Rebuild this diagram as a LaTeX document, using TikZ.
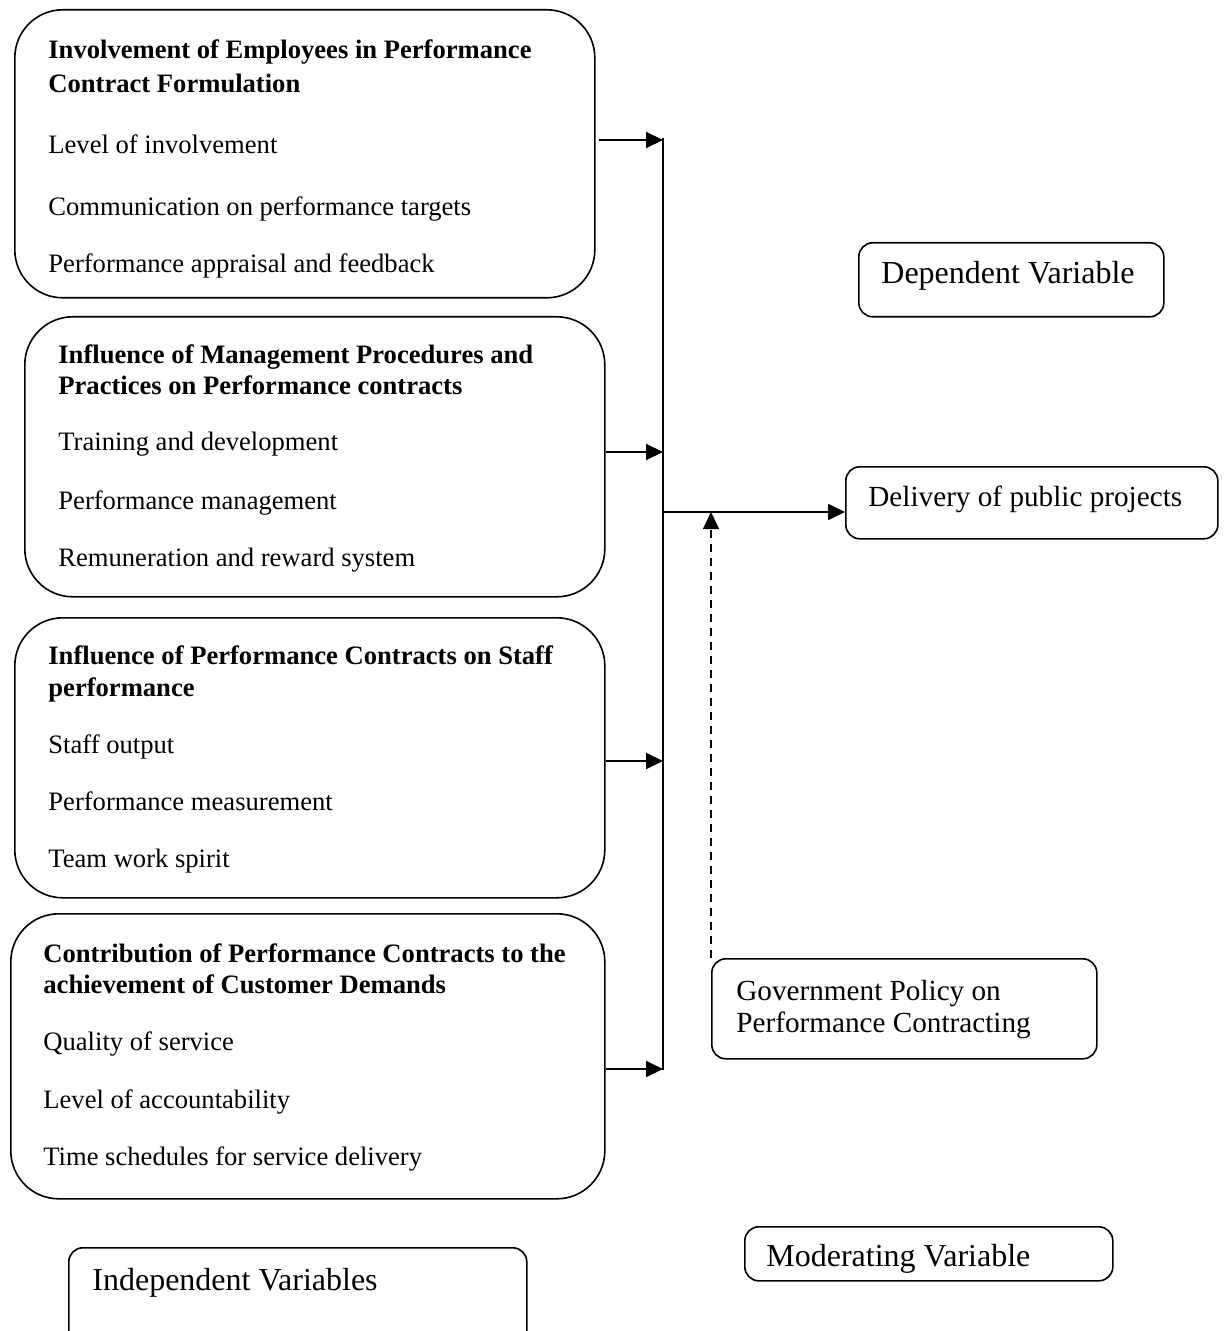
\documentclass[tikz,border=0pt]{standalone}
\usepackage{fontspec}
\setmainfont{Liberation Serif}
\usetikzlibrary{arrows.meta}

\tikzset{
  varbox/.style={draw, line width=0.8pt, rounded corners=24pt, anchor=north west, inner sep=0pt},
  labbox/.style={draw, line width=0.8pt, rounded corners=7pt, anchor=north west, inner sep=0pt},
  head/.style={anchor=base west, inner sep=0pt, font=\fontsize{13.3}{15}\selectfont\bfseries},
  item/.style={anchor=base west, inner sep=0pt, font=\fontsize{13.3}{15}\selectfont},
  midlab/.style={anchor=base west, inner sep=0pt, font=\fontsize{14.6}{17}\selectfont},
  biglab/.style={anchor=base west, inner sep=0pt, font=\fontsize{16}{19}\selectfont},
  arr/.style={line width=1pt, -{Triangle[length=8.5pt,width=8pt]}}
}

\begin{document}
\begin{tikzpicture}[x=0.5pt,y=-0.5pt]
  \useasboundingbox (0,0) rectangle (1224,1331);

  % independent variables
  \node[varbox, minimum width=290pt, minimum height=144pt] (inv) at (14,9) {};
  \node[head] (invh1) at (48,59) {Involvement of Employees in Performance};
  \node[head] (invh2) at (48,93) {Contract Formulation};
  \node[item] (inv1) at (48,154) {Level of involvement};
  \node[item] (inv2) at (48,216) {Communication on performance targets};
  \node[item] (inv3) at (48,273) {Performance appraisal and feedback};

  \node[varbox, minimum width=290pt, minimum height=140pt] (mgt) at (24,316) {};
  \node[head] (mgth1) at (58,364) {Influence of Management Procedures and};
  \node[head] (mgth2) at (58,395) {Practices on Performance contracts};
  \node[item] (mgt1) at (58,451) {Training and development};
  \node[item] (mgt2) at (58,509) {Performance management};
  \node[item] (mgt3) at (58,566) {Remuneration and reward system};

  \node[varbox, minimum width=295pt, minimum height=140pt] (stf) at (14,617) {};
  \node[head] (stfh1) at (48,664) {Influence of Performance Contracts on Staff};
  \node[head] (stfh2) at (48,696) {performance};
  \node[item] (stf1) at (48,753) {Staff output};
  \node[item] (stf2) at (48,810) {Performance measurement};
  \node[item] (stf3) at (48,867) {Team work spirit};

  \node[varbox, minimum width=297pt, minimum height=142.5pt] (cus) at (10,913) {};
  \node[head] (cush1) at (43,962) {Contribution of Performance Contracts to the};
  \node[head] (cush2) at (43,993) {achievement of Customer Demands};
  \node[item] (cus1) at (43,1050) {Quality of service};
  \node[item] (cus2) at (43,1108) {Level of accountability};
  \node[item] (cus3) at (43,1165) {Time schedules for service delivery};

  % labels and right side
  \node[labbox, minimum width=152.5pt, minimum height=37pt] (dep) at (858,242) {};
  \node[biglab] (deptxt) at (881,284) {Dependent Variable};

  \node[labbox, minimum width=186pt, minimum height=36pt] (del) at (845,466) {};
  \node[midlab] (deltxt) at (868,506) {Delivery of public projects};

  \node[labbox, minimum width=192.5pt, minimum height=50pt] (gov) at (711,958) {};
  \node[midlab] (govtxt1) at (736,1000) {Government Policy on};
  \node[midlab] (govtxt2) at (736,1032) {Performance Contracting};

  \node[labbox, minimum width=184pt, minimum height=27pt] (mod) at (744,1226) {};
  \node[biglab] (modtxt) at (766,1266) {Moderating Variable};

  \node[labbox, minimum width=229pt, minimum height=50pt] (ind) at (68,1247) {};
  \node[biglab] (indtxt) at (92,1290) {Independent Variables};

  % connectors
  \coordinate (sTop) at (663,138);
  \coordinate (sBot) at (663,1070);
  \coordinate (j1) at (663,140);
  \coordinate (j2) at (663,452);
  \coordinate (j3) at (663,761);
  \coordinate (j4) at (663,1069);
  \coordinate (jOut) at (663,512);
  \draw[line width=1pt] (sTop) -- (sBot);
  \draw[arr] ([xshift=1.5pt]inv.east |- j1) -- (j1);
  \draw[arr] (mgt.east |- j2) -- (j2);
  \draw[arr] (stf.east |- j3) -- (j3);
  \draw[arr] (cus.east |- j4) -- (j4);
  \draw[arr] (jOut) -- (jOut -| del.west);
  \draw[arr, line width=0.7pt, dash pattern=on 4pt off 3pt] (gov.north west) -- (gov.north west |- jOut);
\end{tikzpicture}
\end{document}
